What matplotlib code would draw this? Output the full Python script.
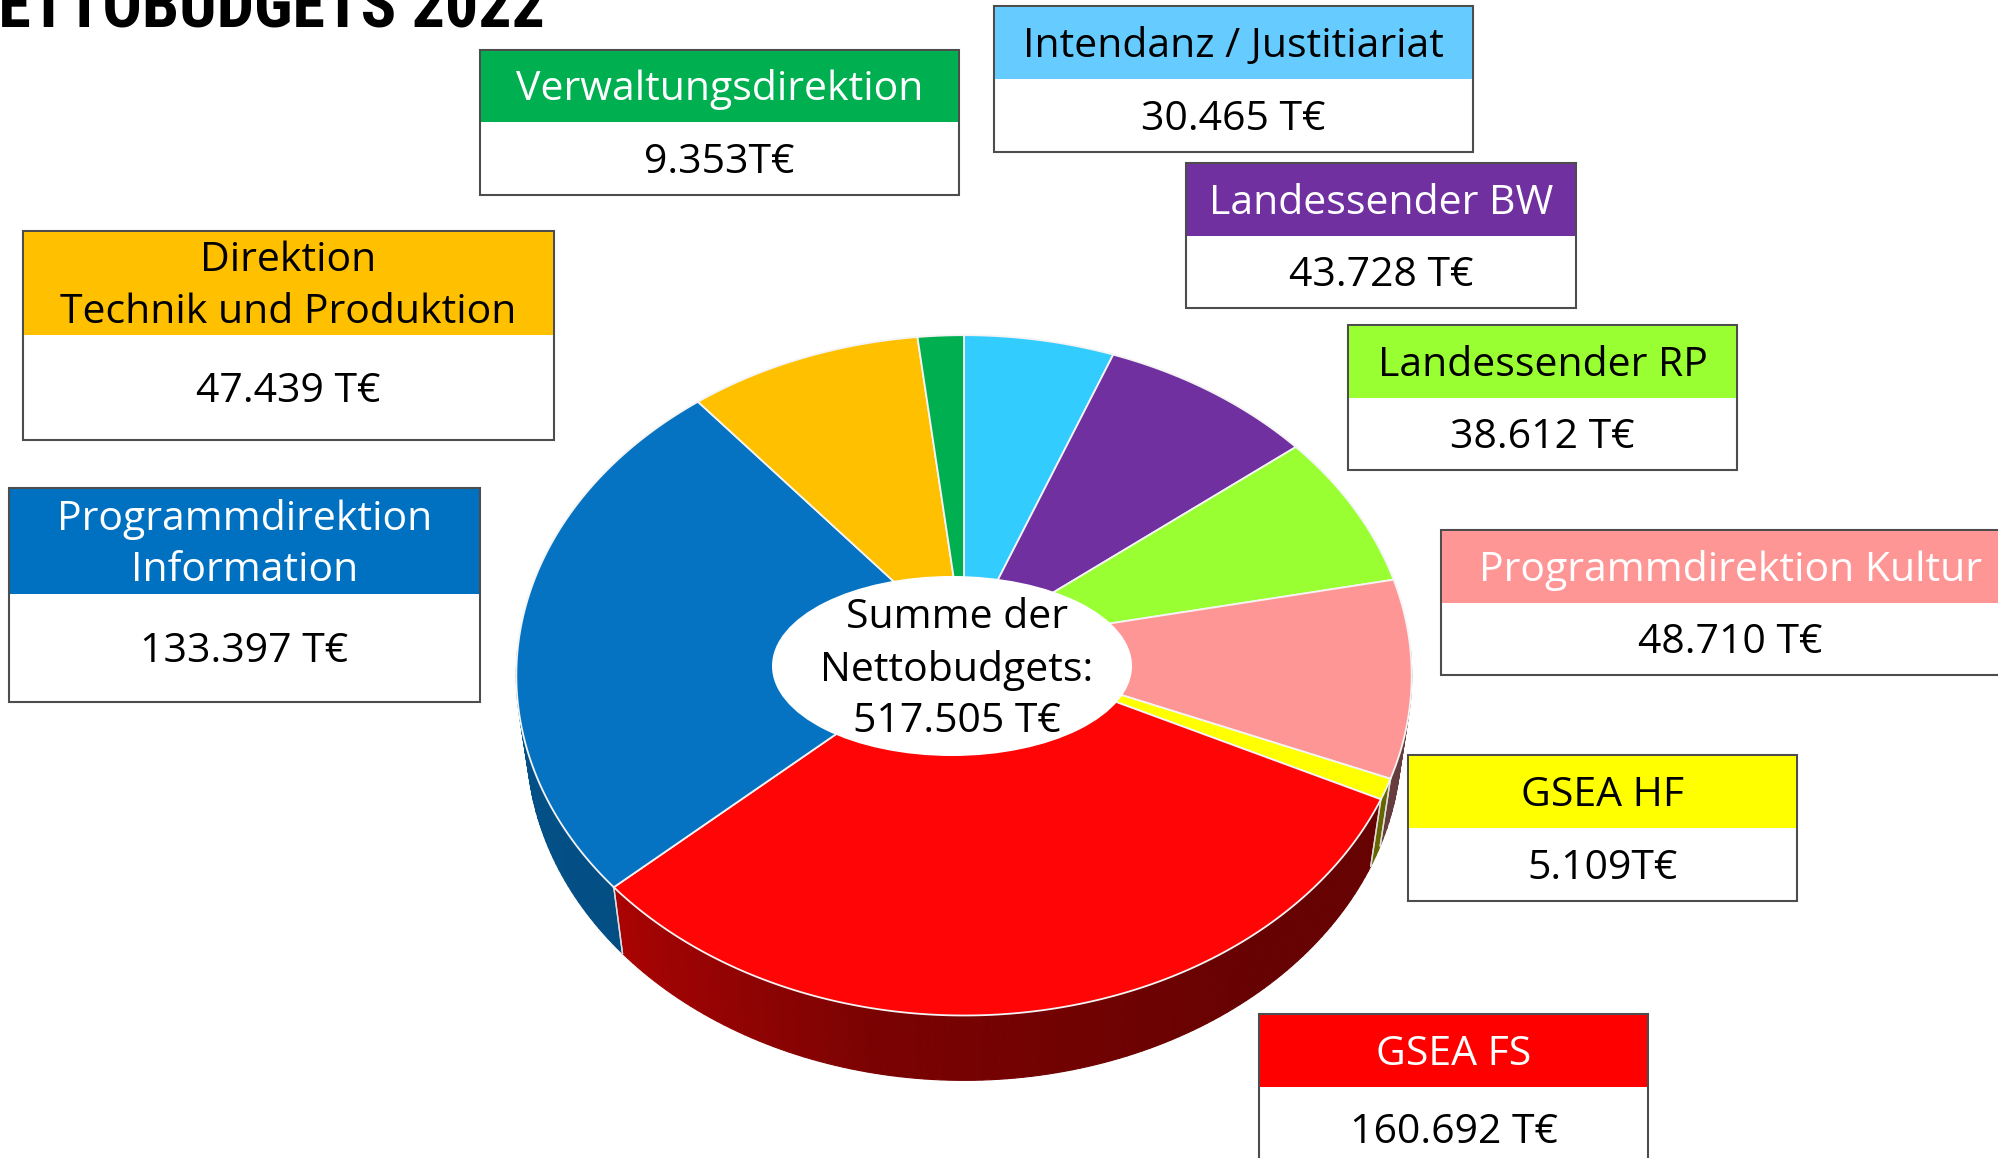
import numpy as np
import matplotlib.pyplot as plt
from matplotlib.patches import Polygon, Rectangle, Ellipse

# data (clockwise from 12 o'clock)
names = ['Intendanz / Justitiariat', 'Landessender BW', 'Landessender RP',
         'Programmdirektion Kultur', 'GSEA HF', 'GSEA FS',
         'Programmdirektion\nInformation', 'Direktion\nTechnik und Produktion',
         'Verwaltungsdirektion']
values = [30.465, 43.728, 38.612, 48.710, 5.109, 160.692, 133.397, 47.439, 9.353]
value_labels = ['30.465 T€', '43.728 T€', '38.612 T€', '48.710 T€', '5.109T€',
                '160.692 T€', '133.397 T€', '47.439 T€', '9.353T€']
slice_colors = ['#33CCFF', '#7030A0', '#99FF33', '#FF9696', '#FFFF00',
                '#FF0505', '#0573C2', '#FFC000', '#00B050']
header_colors = ['#66CCFF', '#7030A0', '#99FF33', '#FF9696', '#FFFF00',
                 '#FF0000', '#0070C0', '#FFC000', '#00B050']
header_text_colors = ['black', 'white', 'black', 'white', 'black',
                      'white', 'white', 'black', 'white']
title = 'NETTOBUDGETS 2022'
total_text = 'Summe der\nNettobudgets:\n517.505 T€'

# box layout in pixels: x0, x1, top, header bottom, bottom
boxes = [(994, 1473, 6, 79, 152),
         (1186, 1576, 163, 236, 308),
         (1348, 1737, 325, 398, 470),
         (1441, 2020, 530, 603, 675),
         (1408, 1797, 755, 828, 901),
         (1259, 1648, 1014, 1087, 1170),
         (9, 480, 488, 594, 702),
         (23, 554, 231, 335, 440),
         (480, 959, 50, 122, 195)]

FONT = ['Open Sans', 'DejaVu Sans']
TITLE_FONT = ['Roboto Condensed', 'Roboto', 'DejaVu Sans']
FS = 29.5

W, H = 1998, 1158
fig = plt.figure(figsize=(W / 100, H / 100), dpi=100)
ax = fig.add_axes([0, 0, 1, 1])
ax.set_xlim(0, W)
ax.set_ylim(H, 0)
ax.axis('off')

# 3D pie seen in perspective
px, py = 964, 646          # projected pie centre
s = 446.0                  # screen scale of radius
sin_e = 0.757              # viewing elevation
cos_e = np.sqrt(1 - sin_e ** 2)
r = 0.132                  # radius / camera distance
h = 0.239                  # thickness / radius

frac = np.array(values) / sum(values)
bounds = 90 - 360 * np.concatenate([[0], np.cumsum(frac)])


def pt(t, z=0.0):
    ph = np.radians(t)
    u, v = np.cos(ph), np.sin(ph)
    up = v * sin_e + z * cos_e
    w = 1 + r * v * cos_e - r * z * sin_e
    return px + s * u / w, py - s * up / w


def shade(t):
    return np.interp(t, [-180, -165, -140, -100, -50, 0],
                     [0.6, 0.7, 0.68, 0.48, 0.4, 0.4])


# side walls (front half)
for i, col in enumerate(slice_colors):
    hi, lo = bounds[i], bounds[i + 1]
    lo2, hi2 = max(lo, -180), min(hi, 0)
    if lo2 >= hi2:
        continue
    rgb = np.array(plt.matplotlib.colors.to_rgb(col))
    ts = np.linspace(lo2, hi2, max(2, int((hi2 - lo2) / 1.0) + 2))
    for t0, t1 in zip(ts[:-1], ts[1:]):
        c = rgb * shade((t0 + t1) / 2)
        poly = [pt(t0), pt(t1), pt(t1, -h), pt(t0, -h)]
        ax.add_patch(Polygon(poly, closed=True, fc=c, ec=c, lw=0.8, zorder=2))
    for t in (lo, hi):
        if -180 < t < 0:
            x0, y0 = pt(t)
            x1, y1 = pt(t, -h)
            ax.plot([x0, x1], [y0, y1], color='#dddddd', lw=1, zorder=3)

# top faces
for i, col in enumerate(slice_colors):
    ts = np.linspace(bounds[i], bounds[i + 1], 150)
    arc = [pt(t) for t in ts]
    ax.add_patch(Polygon([(px, py)] + arc, closed=True, fc=col, ec='#f4f4f4',
                         lw=1.3, zorder=4))

# centre label
ax.add_patch(Ellipse((952, 666), 360, 180, fc='white', ec='none', zorder=5))
ax.text(957, 670, total_text, ha='center', va='center', fontsize=FS,
        family=FONT, linespacing=1.36, zorder=6)

# label boxes
for i in range(len(names)):
    x0, x1, y0, ym, y1 = boxes[i]
    ax.add_patch(Rectangle((x0, y0), x1 - x0, y1 - y0, fc='white',
                           ec='#4d4d4d', lw=1.5, zorder=7))
    ax.add_patch(Rectangle((x0 + 1, y0 + 1), x1 - x0 - 2, ym - y0 - 1,
                           fc=header_colors[i], ec='none', zorder=8))
    ax.text((x0 + x1) / 2, (y0 + ym) / 2 + 4, names[i], ha='center', va='center',
            fontsize=FS, family=FONT, color=header_text_colors[i],
            linespacing=1.37, zorder=9)
    ax.text((x0 + x1) / 2, (ym + y1) / 2 + 4, value_labels[i], ha='center',
            va='center', fontsize=FS, family=FONT, color='black', zorder=9)

ax.text(545, 27, title, ha='right', va='baseline', fontsize=47.5,
        fontweight='bold', family=TITLE_FONT, color='black', zorder=9)

fig.savefig('out.png', dpi=100)
